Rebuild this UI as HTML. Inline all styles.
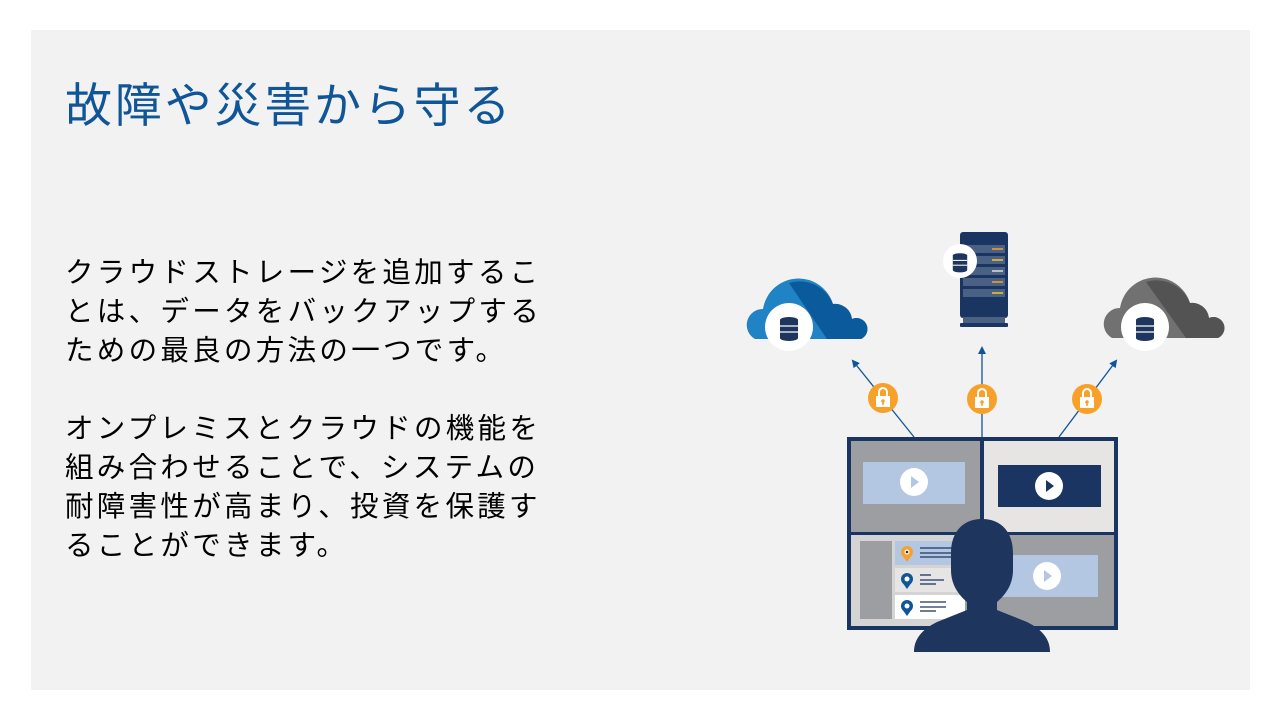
<!DOCTYPE html>
<html><head><meta charset="utf-8"><style>
html,body{margin:0;padding:0;background:#fff;}
body{width:1280px;height:720px;position:relative;overflow:hidden;font-family:"Liberation Sans","Noto Sans CJK JP",sans-serif;}
#slide{position:absolute;left:31px;top:30px;width:1219px;height:660px;background:#f2f2f2;}
h1{position:absolute;left:65px;top:76px;margin:0;font-weight:normal;font-size:47px;line-height:60px;letter-spacing:2.8px;color:#0f5597;white-space:nowrap;}
.p{position:absolute;left:65px;margin:0;font-size:28.5px;line-height:39px;letter-spacing:3.3px;color:#000;white-space:nowrap;}
svg{position:absolute;left:0;top:0;}
</style></head><body>
<div id="slide"></div>
<h1>故障や災害から守る</h1>
<div class="p" style="top:254px">クラウドストレージを追加するこ<br>とは、データをバックアップする<br>ための最良の方法の一つです。</div>
<div class="p" style="top:410px">オンプレミスとクラウドの機能を<br>組み合わせることで、システムの<br>耐障害性が高まり、投資を保護す<br>ることができます。</div>
<svg width="1280" height="720" viewBox="0 0 1280 720">
<defs>
<g id="db"><ellipse cx="0" cy="-8" rx="9" ry="3" fill="#1e355e"/><rect x="-9" y="-8" width="18" height="18" fill="#1e355e"/><line x1="-9" y1="-2" x2="9" y2="-2" stroke="#fff" stroke-width="1.3"/><line x1="-9" y1="4" x2="9" y2="4" stroke="#fff" stroke-width="1.3"/><ellipse cx="0" cy="10" rx="9" ry="3" fill="#1e355e"/></g>
<g id="lock"><circle r="15" fill="#f7a12b"/><path d="M-4,-2 v-4 a4,4 0 0 1 8,0 v4" fill="none" stroke="#fff" stroke-width="2"/><rect x="-7" y="-2" width="14" height="11" fill="#fff"/><circle cx="0" cy="3" r="1.8" fill="#f7a12b"/><rect x="-0.8" y="3" width="1.6" height="4" fill="#f7a12b"/></g>
<marker id="ar" markerWidth="8" markerHeight="8" refX="6" refY="4" orient="auto" markerUnits="userSpaceOnUse"><path d="M0,0 L8,4 L0,8z" fill="#0f5597"/></marker>
</defs>
<g>
<path d="M755,339 a16,16 0 0 1 8,-30 a36,36 0 0 1 70,-5 a17,17 0 0 1 19,15 a10,10 0 0 1 9,20 z" fill="#1f83c6"/>
<path d="M789,283 a36,36 0 0 1 44,21 a17,17 0 0 1 19,15 a10,10 0 0 1 9,20 L827,339 z" fill="#0b5a9c"/>
<circle cx="789" cy="327" r="24" fill="#fff"/><use href="#db" x="789" y="328"/>
</g>
<g>
<path d="M1112,338 a16,16 0 0 1 8,-30 a36,36 0 0 1 70,-5 a17,17 0 0 1 19,15 a10,10 0 0 1 9,20 z" fill="#717171"/>
<path d="M1146,282 a36,36 0 0 1 44,21 a17,17 0 0 1 19,15 a10,10 0 0 1 9,20 L1186,338 z" fill="#535353"/>
<circle cx="1145" cy="327" r="24" fill="#fff"/><use href="#db" x="1145" y="328"/>
</g>
<g>
<rect x="960" y="232" width="48" height="86" rx="3" fill="#1b3563"/>
<rect x="963" y="317" width="42" height="6" fill="#4b6183"/>
<rect x="960" y="323" width="48" height="4" rx="1" fill="#1b3563"/>
<g fill="#4b6183"><rect x="963" y="245" width="42" height="8"/><rect x="963" y="256" width="42" height="8"/><rect x="963" y="267" width="42" height="8"/><rect x="963" y="278" width="42" height="8"/><rect x="963" y="289" width="42" height="8"/></g>
<g stroke-width="1.5"><line x1="992" y1="249" x2="1003" y2="249" stroke="#f7a12b"/><line x1="992" y1="260" x2="1003" y2="260" stroke="#f7c52b"/><line x1="992" y1="271" x2="1003" y2="271" stroke="#ddd"/><line x1="992" y1="282" x2="1003" y2="282" stroke="#f7a12b"/><line x1="992" y1="293" x2="1003" y2="293" stroke="#f7c52b"/></g>
<circle cx="960" cy="261" r="17" fill="#fff"/><use href="#db" x="960" y="262" transform="translate(960 262) scale(0.8) translate(-960 -262)"/>
</g>
<g stroke="#0f5597" stroke-width="1.3" fill="none">
<line x1="914" y1="437" x2="853" y2="361" marker-end="url(#ar)"/>
<line x1="982" y1="437" x2="982" y2="348" marker-end="url(#ar)"/>
<line x1="1059" y1="437" x2="1116" y2="361" marker-end="url(#ar)"/>
</g>
<use href="#lock" x="883" y="398"/><use href="#lock" x="982" y="399"/><use href="#lock" x="1087" y="399"/>
<rect x="847" y="437" width="271" height="193" fill="#1b3563"/>
<rect x="851" y="441" width="129" height="91" fill="#9d9ea2"/>
<rect x="984" y="441" width="130" height="91" fill="#e6e5e3"/>
<rect x="851" y="535" width="129" height="91" fill="#d4d4d4"/>
<rect x="984" y="535" width="130" height="91" fill="#9d9ea2"/>
<rect x="960" y="535" width="24" height="91" fill="#9d9ea2"/>
<rect x="863" y="462" width="102" height="42" fill="#b4c7e2"/>
<circle cx="914" cy="482" r="14" fill="#fff"/><path d="M911,476 l8,6 l-8,6z" fill="#b4c7e2"/>
<rect x="998" y="465" width="103" height="42" fill="#1b3563"/>
<circle cx="1049" cy="486" r="14" fill="#fff"/><path d="M1046,480 l8,6 l-8,6z" fill="#1b3563"/>
<rect x="1000" y="555" width="98" height="42" fill="#b4c7e2"/>
<circle cx="1047" cy="576" r="14" fill="#fff"/><path d="M1044,570 l8,6 l-8,6z" fill="#b4c7e2"/>
<rect x="860" y="541" width="32" height="78" fill="#9d9ea2"/>
<rect x="895" y="541" width="70" height="24" fill="#b4c7e2"/>
<rect x="895" y="568" width="70" height="24" fill="#e6e5e3"/>
<rect x="895" y="595" width="70" height="24" fill="#fff"/>
<g><circle cx="907" cy="552" r="6" fill="#f7a12b"/><path d="M902,555 l5,7 l5,-7z" fill="#f7a12b"/><circle cx="907" cy="552" r="2.5" fill="#fff"/><circle cx="907" cy="552" r="1.3" fill="#1b3563"/></g>
<g><circle cx="907" cy="579" r="6" fill="#0f5597"/><path d="M902,582 l5,7 l5,-7z" fill="#0f5597"/><circle cx="907" cy="579" r="2.5" fill="#fff"/></g>
<g><circle cx="907" cy="606" r="6" fill="#0f5597"/><path d="M902,609 l5,7 l5,-7z" fill="#0f5597"/><circle cx="907" cy="606" r="2.5" fill="#fff"/></g>
<g stroke="#1b3563" stroke-width="1.3"><line x1="920" y1="548" x2="955" y2="548"/><line x1="920" y1="553" x2="955" y2="553"/><line x1="920" y1="557" x2="955" y2="557"/><line x1="920" y1="575" x2="931" y2="575"/><line x1="920" y1="580" x2="944" y2="580"/><line x1="920" y1="584" x2="936" y2="584"/><line x1="920" y1="602" x2="946" y2="602"/><line x1="920" y1="607" x2="946" y2="607"/><line x1="920" y1="611" x2="936" y2="611"/></g>
<path d="M982,519 c-20,0 -31,14 -31,34 l0,17 c0,16 9,26 16,32 l0,8 l-30,12 c-14,7 -23,16 -23,30 l136,0 c0,-14 -9,-23 -23,-30 l-30,-12 l0,-8 c7,-6 16,-16 16,-32 l0,-17 c0,-20 -11,-34 -31,-34z" fill="#1e355e"/>
</svg>
</body></html>
